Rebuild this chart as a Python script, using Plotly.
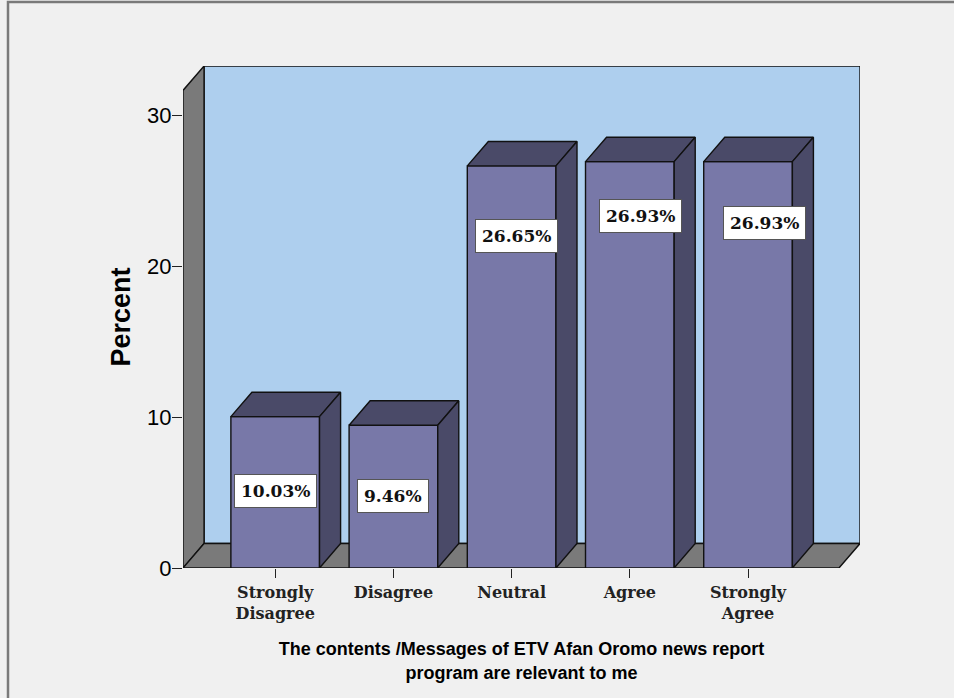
import plotly.graph_objects as go

# ---- data ----
categories = ["Strongly<br>Disagree", "Disagree", "Neutral", "Agree", "Strongly<br>Agree"]
percents = [10.03, 9.46, 26.65, 26.93, 26.93]
label_texts = ["10.03%", "9.46%", "26.65%", "26.93%", "26.93%"]
# label placement (in axis units) as moved in the original chart
label_x_offsets = [0.0, 0.0, 0.04, 0.09, 0.14]
label_y_values = [5.1, 4.77, 22.0, 23.3, 22.85]
y_ticks = [0, 10, 20, 30]

# ---- styling / geometry ----
BG = "#f0f0f0"
WALL_BACK = "#aecfee"
WALL_GREY = "#7a7a7a"
BAR_FRONT = "#7878a8"
BAR_DARK = "#4a4a68"
EDGE = "#111111"

bar_w = 0.75
dx, dy = 0.178, 1.62          # 3D depth offset (x in category units, y in percent)
x_left, x_right = -0.78, 4.947
y_top = 31.65                 # front top of the wall

fig = go.Figure()

def poly(xs, ys, color, lw=1.4):
    fig.add_trace(go.Scatter(
        x=xs + [xs[0]], y=ys + [ys[0]], mode="lines", fill="toself",
        fillcolor=color, line=dict(color=EDGE, width=lw),
        hoverinfo="skip", showlegend=False))

# back wall
poly([x_left + dx, x_right, x_right, x_left + dx],
     [dy, dy, y_top + dy, y_top + dy], WALL_BACK)
# left wall
poly([x_left, x_left, x_left + dx, x_left + dx],
     [0, y_top, y_top + dy, dy], WALL_GREY)
# floor
poly([x_left, x_right - dx, x_right, x_left + dx],
     [0, 0, dy, dy], WALL_GREY)

# bars
for i, v in enumerate(percents):
    l, r = i - bar_w / 2, i + bar_w / 2
    poly([l, r, r, l], [0, 0, v, v], BAR_FRONT)
    poly([l, l + dx, r + dx, r], [v, v + dy, v + dy, v], BAR_DARK)
    poly([r, r + dx, r + dx, r], [0, dy, v + dy, v], BAR_DARK)

# value labels
for i, (t, ox, ly) in enumerate(zip(label_texts, label_x_offsets, label_y_values)):
    fig.add_annotation(
        x=i + ox, y=ly, text=t, showarrow=False,
        font=dict(family="DejaVu Serif", size=17, color="#111111", weight="bold"),
        bgcolor="white", bordercolor="#555555", borderwidth=1, borderpad=6)

# outer frame
fig.add_shape(type="rect", xref="paper", yref="paper",
              x0=(8 - 183) / 677, x1=(965 - 183) / 677,
              y0=(568 - 710) / 502, y1=(568 - 2) / 502,
              line=dict(color="#7a7a7a", width=2.5), fillcolor="rgba(0,0,0,0)",
              layer="below")

fig.update_layout(
    width=954, height=698,
    margin=dict(l=183, r=94, t=66, b=130),
    paper_bgcolor=BG, plot_bgcolor=BG,
    showlegend=False,
    xaxis=dict(
        range=[x_left, x_right], tickvals=list(range(len(categories))),
        ticktext=categories, ticks="outside", ticklen=9, tickwidth=1.3,
        tickcolor="#222222", showgrid=False, zeroline=False, showline=False,
        ticklabelstandoff=1,
        tickfont=dict(family="DejaVu Serif", size=16, color="#222222", weight="bold"),
        title=dict(text="The contents /Messages of ETV Afan Oromo news report<br>program are relevant to me",
                   font=dict(family="Liberation Sans", size=18, color="black", weight="bold"),
                   standoff=20),
        fixedrange=True),
    yaxis=dict(
        range=[0, y_top + dy], tickvals=y_ticks, ticks="outside", ticklen=10,
        tickwidth=1.3, tickcolor="#222222", showgrid=False, zeroline=False,
        showline=False, ticklabelstandoff=-4,
        tickfont=dict(family="Liberation Sans", size=22, color="black"),
        title=dict(text="Percent",
                   font=dict(family="Liberation Sans", size=27, color="black", weight="bold"),
                   standoff=8),
        fixedrange=True),
)

fig.write_html("out.html")
